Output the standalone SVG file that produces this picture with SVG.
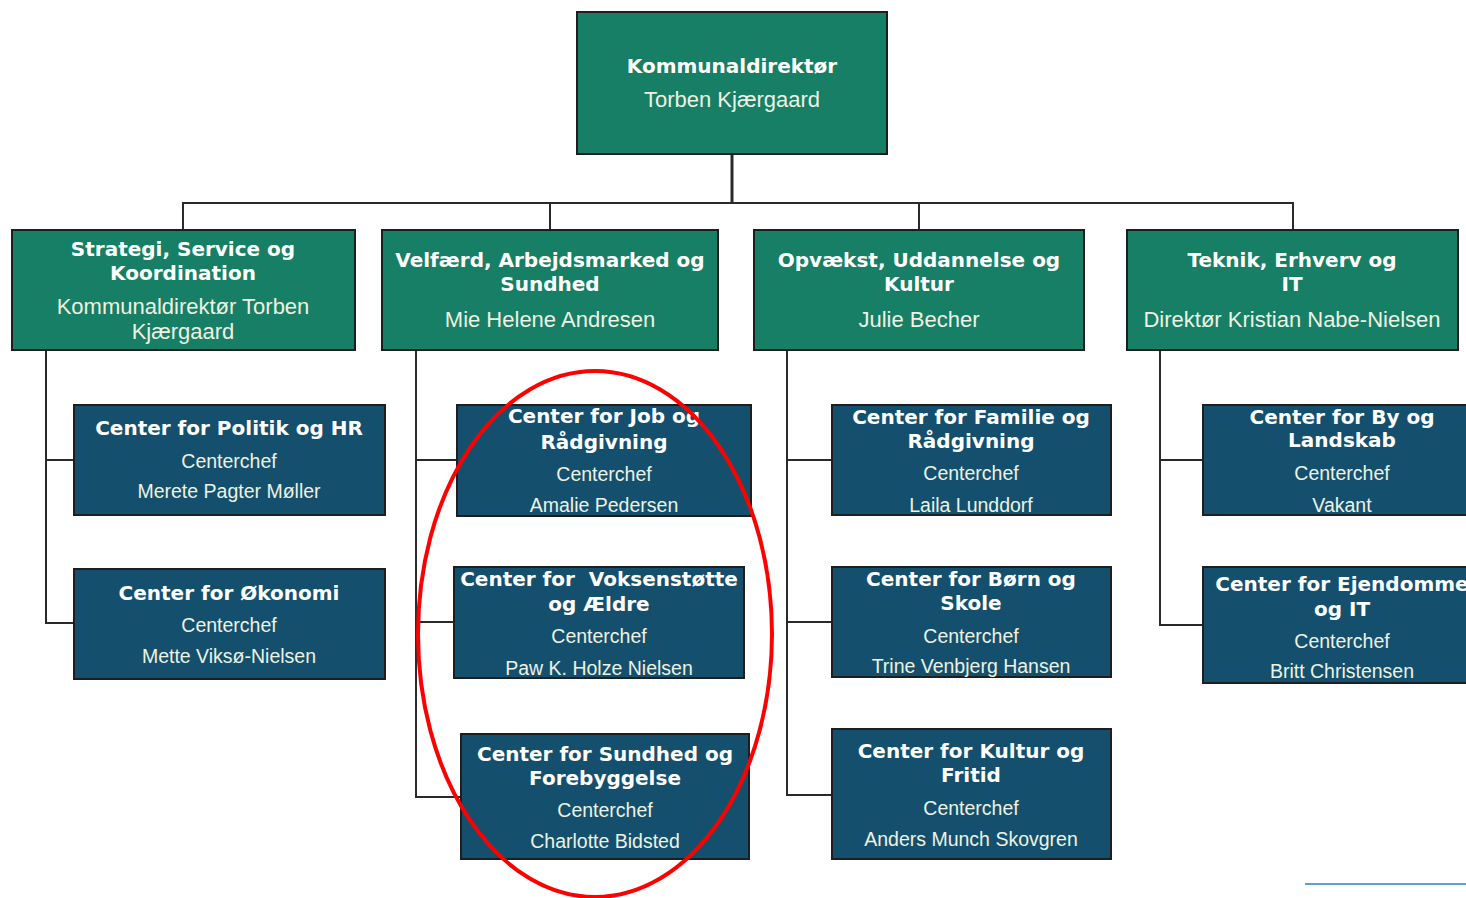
<svg xmlns="http://www.w3.org/2000/svg" width="1466" height="898" viewBox="0 0 1466 898">
<style>
.g{fill:#177f65;stroke:#1e1e1e;stroke-width:2}
.b{fill:#14506e;stroke:#1e1e1e;stroke-width:2}
.c{fill:none;stroke:#2a2a2a;stroke-width:2}
.t{font-family:"DejaVu Sans",Verdana,sans-serif;font-weight:bold;font-size:20px;fill:#ffffff;text-anchor:middle}
.n{font-family:"Liberation Sans",Arial,sans-serif;font-size:19.5px;fill:#edf2e3;text-anchor:middle}
.l{font-size:22px}
</style>
<rect width="1466" height="898" fill="#ffffff"/>
<g id="connectors">
<path class="c" d="M732 154V203" style="stroke-width:3"/>
<path class="c" d="M183 230V203H1293V230M550 203V230M919 203V230"/>
<path class="c" d="M46 350V623H74M46 460H74"/>
<path class="c" d="M416 350V797H461M416 460H457M416 622H454"/>
<path class="c" d="M787 350V795H832M787 460H832M787 622H832"/>
<path class="c" d="M1160 350V625H1203M1160 460H1203"/>
</g>
<g id="n-kommunaldirektor">
<rect class="g" x="577" y="12" width="310" height="142"/>
<text class="t" x="732" y="73">Kommunaldirektør</text>
<text class="n l" x="732" y="107">Torben Kjærgaard</text>
</g>
<g id="n-strategi">
<rect class="g" x="12" y="230" width="343" height="120"/>
<text class="t" x="183" y="256">Strategi, Service og</text>
<text class="t" x="183" y="280">Koordination</text>
<text class="n l" x="183" y="314">Kommunaldirektør Torben</text>
<text class="n l" x="183" y="339">Kjærgaard</text>
</g>
<g id="n-velfaerd">
<rect class="g" x="382" y="230" width="336" height="120"/>
<text class="t" x="550" y="267">Velfærd, Arbejdsmarked og</text>
<text class="t" x="550" y="291">Sundhed</text>
<text class="n l" x="550" y="327">Mie Helene Andresen</text>
</g>
<g id="n-opvaekst">
<rect class="g" x="754" y="230" width="330" height="120"/>
<text class="t" x="919" y="267">Opvækst, Uddannelse og</text>
<text class="t" x="919" y="291">Kultur</text>
<text class="n l" x="919" y="327">Julie Becher</text>
</g>
<g id="n-teknik">
<rect class="g" x="1127" y="230" width="331" height="120"/>
<text class="t" x="1292" y="267">Teknik, Erhverv og</text>
<text class="t" x="1292" y="291">IT</text>
<text class="n l" x="1292" y="327">Direktør Kristian Nabe-Nielsen</text>
</g>
<g id="n-politik-hr">
<rect class="b" x="74" y="405" width="311" height="110"/>
<text class="t" x="229" y="435">Center for Politik og HR</text>
<text class="n" x="229" y="468">Centerchef</text>
<text class="n" x="229" y="498">Merete Pagter Møller</text>
</g>
<g id="n-okonomi">
<rect class="b" x="74" y="569" width="311" height="110"/>
<text class="t" x="229" y="600">Center for Økonomi</text>
<text class="n" x="229" y="632">Centerchef</text>
<text class="n" x="229" y="663">Mette Viksø-Nielsen</text>
</g>
<g id="n-job">
<rect class="b" x="457" y="405" width="294" height="111"/>
<text class="t" x="604" y="423">Center for Job og</text>
<text class="t" x="604" y="449">Rådgivning</text>
<text class="n" x="604" y="481">Centerchef</text>
<text class="n" x="604" y="512">Amalie Pedersen</text>
</g>
<g id="n-voksenstotte">
<rect class="b" x="454" y="567" width="290" height="111"/>
<text class="t" x="599" y="586" xml:space="preserve">Center for  Voksenstøtte</text>
<text class="t" x="599" y="611">og Ældre</text>
<text class="n" x="599" y="643">Centerchef</text>
<text class="n" x="599" y="675">Paw K. Holze Nielsen</text>
</g>
<g id="n-sundhed">
<rect class="b" x="461" y="734" width="288" height="125"/>
<text class="t" x="605" y="761">Center for Sundhed og</text>
<text class="t" x="605" y="785">Forebyggelse</text>
<text class="n" x="605" y="817">Centerchef</text>
<text class="n" x="605" y="848">Charlotte Bidsted</text>
</g>
<g id="n-familie">
<rect class="b" x="832" y="405" width="279" height="110"/>
<text class="t" x="971" y="424">Center for Familie og</text>
<text class="t" x="971" y="448">Rådgivning</text>
<text class="n" x="971" y="480">Centerchef</text>
<text class="n" x="971" y="512">Laila Lunddorf</text>
</g>
<g id="n-born-skole">
<rect class="b" x="832" y="567" width="279" height="110"/>
<text class="t" x="971" y="586">Center for Børn og</text>
<text class="t" x="971" y="610">Skole</text>
<text class="n" x="971" y="643">Centerchef</text>
<text class="n" x="971" y="673">Trine Venbjerg Hansen</text>
</g>
<g id="n-kultur">
<rect class="b" x="832" y="729" width="279" height="130"/>
<text class="t" x="971" y="758">Center for Kultur og</text>
<text class="t" x="971" y="782">Fritid</text>
<text class="n" x="971" y="815">Centerchef</text>
<text class="n" x="971" y="846">Anders Munch Skovgren</text>
</g>
<g id="n-by-landskab">
<rect class="b" x="1203" y="405" width="280" height="110"/>
<text class="t" x="1342" y="424">Center for By og</text>
<text class="t" x="1342" y="447">Landskab</text>
<text class="n" x="1342" y="480">Centerchef</text>
<text class="n" x="1342" y="512">Vakant</text>
</g>
<g id="n-ejendomme">
<rect class="b" x="1203" y="567" width="280" height="116"/>
<text class="t" x="1342" y="591">Center for Ejendomme</text>
<text class="t" x="1342" y="616">og IT</text>
<text class="n" x="1342" y="648">Centerchef</text>
<text class="n" x="1342" y="678">Britt Christensen</text>
</g>
<ellipse cx="595" cy="634" rx="177" ry="263" fill="none" stroke="#ff0000" stroke-width="4"/>
<line x1="1305" y1="884" x2="1466" y2="884" stroke="#5aa5cf" stroke-width="2"/>
</svg>
